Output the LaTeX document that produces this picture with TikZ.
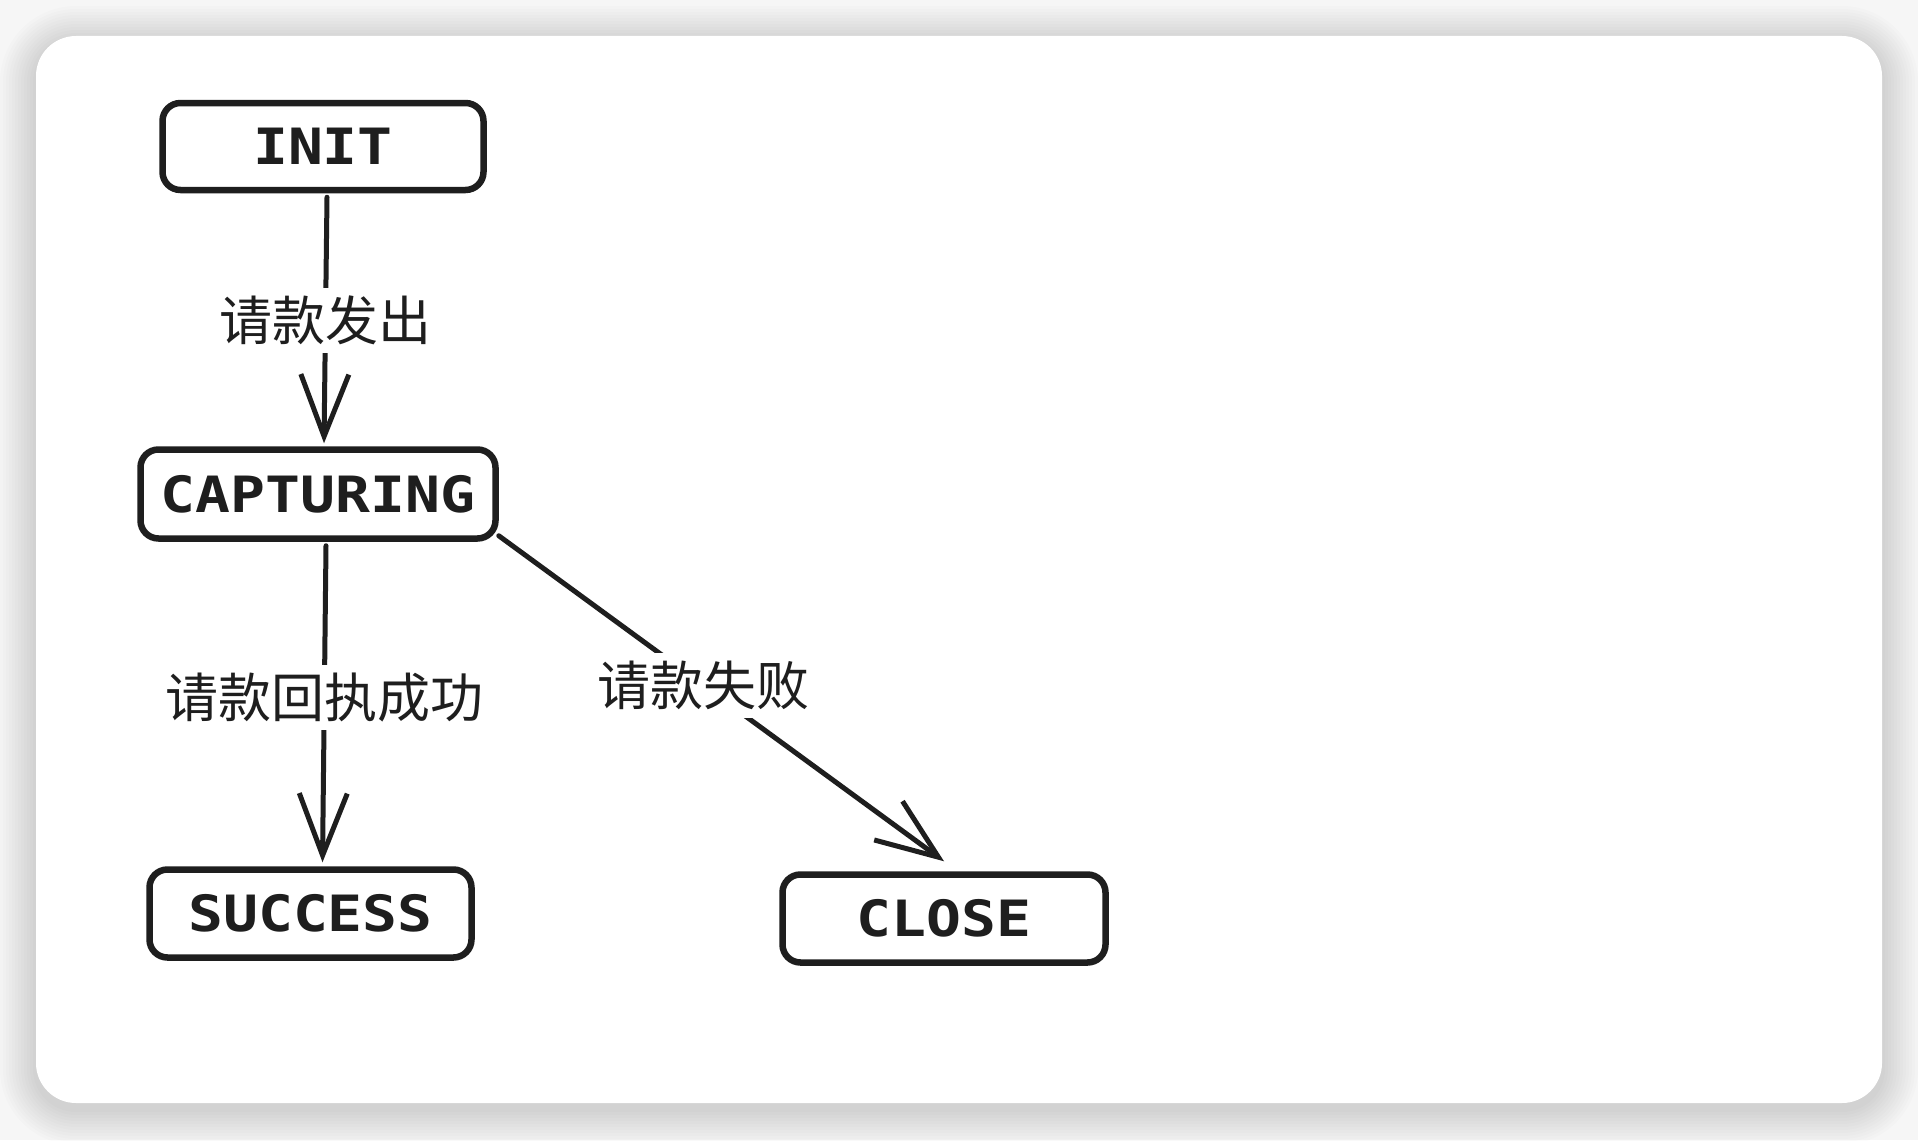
\documentclass[tikz,border=0pt]{standalone}
\usepackage{fontspec}
\usepackage{graphicx}
\setmainfont{DejaVu Sans Mono}
\newfontfamily\cjk{Noto Sans CJK SC}
\usetikzlibrary{arrows.meta,calc}
\definecolor{ink}{HTML}{1E1E1E}
\definecolor{outside}{HTML}{F6F6F6}
\newcommand{\stname}[1]{\scalebox{1.16}[1]{#1}}
\begin{document}
\begin{tikzpicture}[x=1pt,y=-1pt,
  statebox/.style={draw=ink, line width=6.5pt, rounded corners=18pt, fill=white,
    font=\bfseries\fontsize{50}{60}\selectfont, text=ink, inner sep=0pt},
  edgelabel/.style={fill=white, text=ink, font=\cjk\fontsize{53}{62}\selectfont, inner sep=8pt},
  flow/.style={draw=ink, line width=5pt, line cap=round,
    -{Straight Barb[length=62pt,width=48pt,line width=5pt]}}
]
\useasboundingbox (0,0) rectangle (1918,1140);
\fill[outside] (0,0) rectangle (1918,1140);
% soft shadow of the card
\foreach \i in {1,...,12}{
  \pgfmathsetmacro\rr{40+3*\i}
  \fill[black, opacity=0.011, rounded corners=\rr pt]
    (36-3*\i, 36-3*\i+6) rectangle (1882+3*\i, 1103+3*\i+6);
}
% card
\fill[white, rounded corners=40pt] (36,36) rectangle (1882,1103);

% states
\node[statebox, minimum width=321pt, minimum height=87pt] (init) at (323,146.5) {\stname{INIT}};
\node[statebox, minimum width=355pt, minimum height=89pt] (capt) at (318,494) {\stname{CAPTURING}};
\node[statebox, minimum width=322pt, minimum height=88pt] (succ) at (310.5,913.5) {\stname{SUCCESS}};
\node[statebox, minimum width=323pt, minimum height=88pt] (close) at (944,918.5) {\stname{CLOSE}};

% transitions
\draw[flow] ($(init.south)+(4,4)$) -- node[edgelabel]{请款发出} ($(capt.north)+(6,-3)$);
\draw[flow] ($(capt.south)+(8,4)$) -- node[edgelabel, pos=0.48]{请款回执成功} ($(succ.north)+(12,-4)$);
\draw[flow] ($(capt.south east)+(0,-6)$) -- node[edgelabel, pos=0.46]{请款失败} ($(close.north)+(0,-10)$);
\end{tikzpicture}
\end{document}
